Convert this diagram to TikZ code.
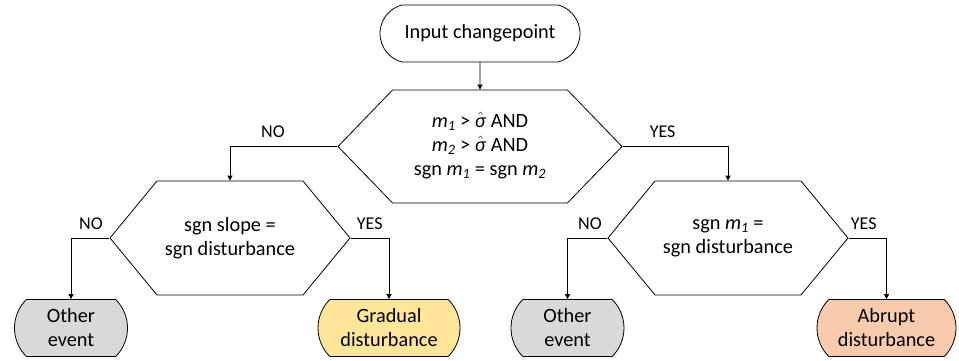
\documentclass[tikz,border=0pt]{standalone}
\usepackage{fontspec}
\setmainfont{Carlito}
\usepackage{tikz}
\usetikzlibrary{arrows.meta,shapes.misc,shapes.symbols}
\definecolor{othfill}{HTML}{D9D9D9}
\definecolor{gradfill}{HTML}{FFE699}
\definecolor{abrfill}{HTML}{F8CBAD}
\newcommand{\msub}[1]{\textit{m}\textsubscript{\textit{#1}}}
\newcommand{\sighat}{\smash{\ensuremath{\hat{\mbox{\textit{σ}}}}}}
\tikzset{
  term/.style={draw, rounded rectangle, rounded rectangle arc length=150, line width=0.8pt, font=\fontsize{20.3}{24}\selectfont, align=center, inner sep=0pt},
  leaf/.style={draw, rounded rectangle, rounded rectangle arc length=90, line width=0.8pt, font=\fontsize{20.3}{24}\selectfont, align=center, inner sep=0pt},
  cond/.style={draw, signal, signal to=west and east, line width=0.8pt, font=\fontsize{20.3}{24}\selectfont, align=center, inner sep=0pt},
  fl/.style={-{Triangle[length=5pt,width=5pt]}, line width=0.8pt},
  lab/.style={font=\fontsize{18}{21}\selectfont, inner sep=0pt, above=8pt},
}
\begin{document}
\begin{tikzpicture}[x=1pt,y=1pt]
\useasboundingbox (0,0) rectangle (959,360);
\node[term, minimum width=200pt, minimum height=57pt] (start) at (480,326.5) {Input changepoint};
\node[cond, signal pointer angle=92, minimum width=284pt, minimum height=113pt] (q1) at (480,213.5)
  {\msub{1} > \sighat{} AND\\ \msub{2} > \sighat{} AND\\ sgn \msub{1} = sgn \msub{2}};
\node[cond, signal pointer angle=101, minimum width=240pt, minimum height=114pt] (q2) at (230,122)
  {sgn slope =\\ sgn disturbance};
\node[cond, signal pointer angle=101, minimum width=240pt, minimum height=114pt] (q3) at (728,122)
  {sgn \msub{1} =\\ sgn disturbance};
\node[leaf, fill=othfill, minimum width=113pt, minimum height=57pt] (oth1) at (71,32) {Other\\ event};
\node[leaf, fill=gradfill, minimum width=142pt, minimum height=57pt] (grad) at (389,32) {Gradual\\ disturbance};
\node[leaf, fill=othfill, minimum width=113pt, minimum height=57pt] (oth2) at (567.5,32) {Other\\ event};
\node[leaf, fill=abrfill, minimum width=139pt, minimum height=57pt] (abr) at (886.5,32) {Abrupt\\ disturbance};
\draw[fl] (start) -- (q1);
\draw[fl] (q1.west) -| node[lab, pos=0.3] {NO} (q2.north);
\draw[fl] (q1.east) -| node[lab, pos=0.19] {YES} (q3.north);
\draw[fl] (q2.west) -| node[lab, pos=0.24] {NO} (oth1.north);
\draw[fl] (q2.east) -| node[lab, pos=0.25] {YES} (grad.north);
\draw[fl] (q3.west) -| node[lab, pos=0.22] {NO} (oth2.north);
\draw[fl] (q3.east) -| node[lab, pos=0.2] {YES} (abr.north);
\end{tikzpicture}
\end{document}
